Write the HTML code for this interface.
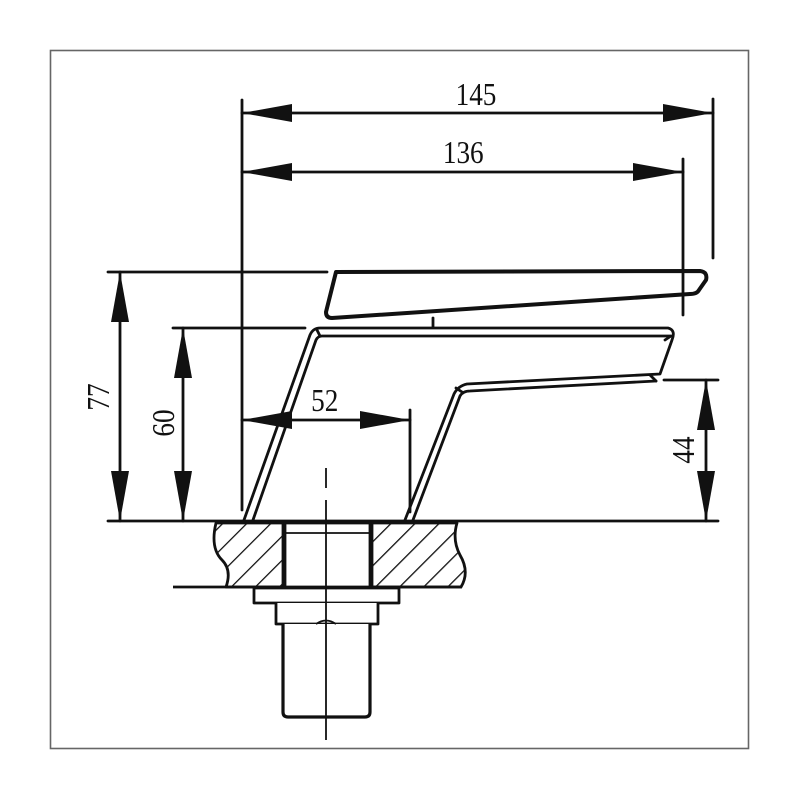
<!DOCTYPE html>
<html><head><style>body{margin:0;background:#fff}svg{display:block}</style></head>
<body>
<svg width="800" height="800" viewBox="0 0 800 800" xmlns="http://www.w3.org/2000/svg">
<defs>
<pattern id="h" patternUnits="userSpaceOnUse" width="17" height="17" patternTransform="rotate(45)">
<line x1="0" y1="0" x2="0" y2="17" stroke="#111" stroke-width="2.6"/>
</pattern>
</defs>
<rect x="50.5" y="50.5" width="698" height="698" fill="#fff" stroke="#666" stroke-width="1.6"/>
<g stroke="#111" stroke-width="2.8" fill="none" stroke-linecap="round" stroke-linejoin="round">
<line x1="242" y1="100" x2="242" y2="510"/>
<line x1="713" y1="99" x2="713" y2="258"/>
<line x1="683" y1="159" x2="683" y2="315"/>
<line x1="108" y1="272" x2="327" y2="272"/>
<line x1="173" y1="328" x2="305" y2="328"/>
<line x1="108" y1="521" x2="718" y2="521"/>
<line x1="664" y1="380" x2="718" y2="380"/>
<line x1="410" y1="410" x2="410" y2="512"/>
<line x1="242" y1="113" x2="713" y2="113"/>
<line x1="242" y1="172" x2="683" y2="172"/>
<line x1="120" y1="272" x2="120" y2="521"/>
<line x1="183" y1="328" x2="183" y2="521"/>
<line x1="706" y1="380" x2="706" y2="521"/>
<line x1="242" y1="420" x2="410" y2="420"/>
<path d="M336,272 L700,271 Q708,272 706,280 L699,290 Q697,294 690,294 L332,318 Q326,318 326,312 Z" stroke-width="4"/>
<line x1="433" y1="318" x2="433" y2="327"/>
<path d="M244,520 L310,335 Q313,328 320,328 L668,328 Q676,330 672,340 L660,374 L467,384 Q458,386 454,394 L405,520"/>
<path d="M253,520 L316,340 Q318,336 322,336 L670,336"/>
<path d="M413,520 L460,396 Q463,391 470,391 L656,381"/>
<line x1="317" y1="330" x2="320" y2="336"/>
<line x1="665" y1="340" x2="671" y2="336"/>
<line x1="650" y1="375" x2="656" y2="381"/>
<line x1="456" y1="388" x2="462" y2="392"/>
</g>
<g fill="#111">
<polygon points="242,113 292,104 292,122"/>
<polygon points="713,113 663,104 663,122"/>
<polygon points="242,172 292,163 292,181"/>
<polygon points="683,172 633,163 633,181"/>
<polygon points="120,272 111,322 129,322"/>
<polygon points="120,521 111,471 129,471"/>
<polygon points="183,328 174,378 192,378"/>
<polygon points="183,521 174,471 192,471"/>
<polygon points="706,380 697,430 715,430"/>
<polygon points="706,521 697,471 715,471"/>
<polygon points="242,420 292,411 292,429"/>
<polygon points="410,420 360,411 360,429"/>
</g>
<g stroke="#111" stroke-width="2.8" stroke-linejoin="round">
<path d="M216,523 L283,523 L283,587 L226,587 Q232,570 222,560 Q210,548 216,523 Z" fill="url(#h)"/>
<path d="M372,523 L457,523 Q452,540 460,555 Q470,572 461,587 L372,587 Z" fill="url(#h)"/>
<line x1="173" y1="587" x2="462" y2="587"/>
<rect x="285" y="523" width="85" height="64" fill="#fff"/>
<line x1="285" y1="533" x2="370" y2="533" stroke-width="1.8"/>
<line x1="370" y1="523" x2="370" y2="587" stroke-width="1.5"/>
<rect x="254" y="588" width="145" height="15" fill="#fff"/>
<path d="M276,603 L276,624 L378,624 L378,603" fill="#fff"/>
<path d="M283,624 L283,712 Q283,717 288,717 L365,717 Q370,717 370,712 L370,624" fill="#fff" stroke-width="3.2"/>
<path d="M316,624 Q326,617 336,624" fill="none" stroke-width="1.8"/>
</g>
<g stroke="#111" stroke-width="1.8">
<line x1="326" y1="468" x2="326" y2="488"/>
<line x1="326" y1="500" x2="326" y2="740"/>
</g>
<g font-family="Liberation Serif, serif" font-size="32" fill="#111" text-anchor="middle">
<text x="476" y="105" transform="scale(0.85,1) translate(84,0)">145</text>
<text x="463" y="163" transform="scale(0.85,1) translate(82,0)">136</text>
<text x="325" y="411" transform="scale(0.85,1) translate(57,0)">52</text>
<text transform="translate(109,397) rotate(-90) scale(0.85,1)">77</text>
<text transform="translate(174,423) rotate(-90) scale(0.85,1)">60</text>
<text transform="translate(694,450) rotate(-90) scale(0.85,1)">44</text>
</g>
</svg>
</body></html>
